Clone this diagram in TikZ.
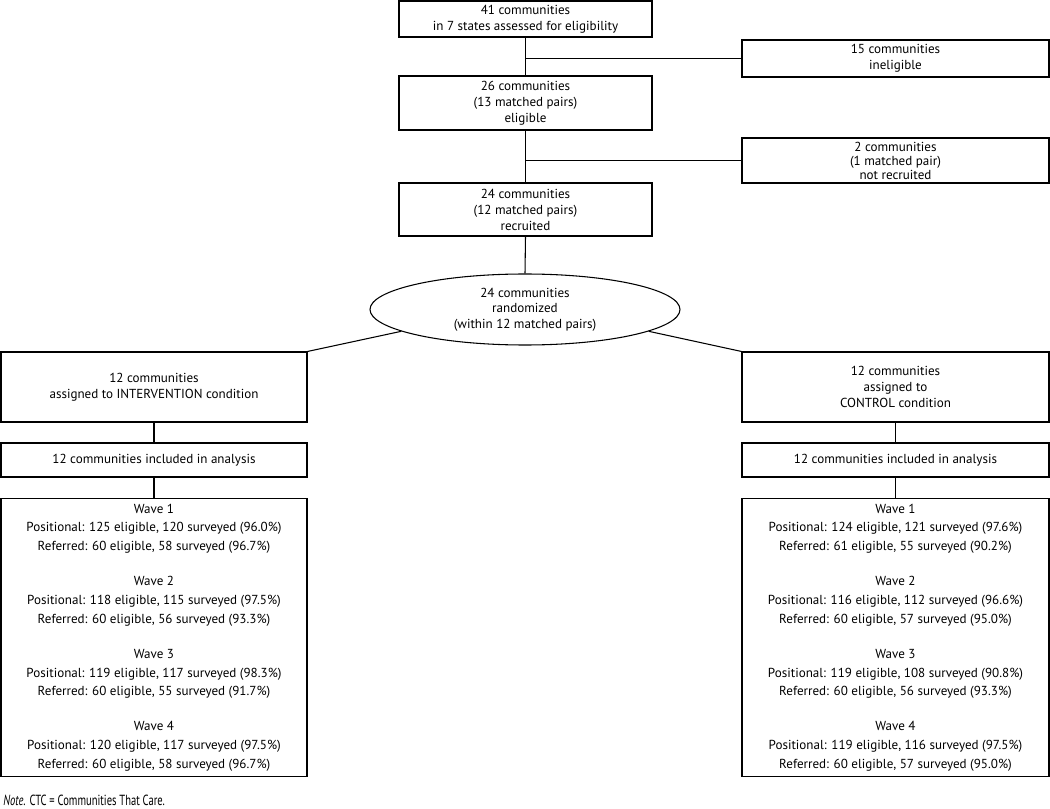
\documentclass[tikz,border=0pt]{standalone}
\usepackage{fontspec}
\setmainfont{PT Sans}
\newfontfamily\notefont[FakeStretch=0.72]{PT Sans}
\usetikzlibrary{shapes.geometric}
\begin{document}
\begin{tikzpicture}[x=0.75pt,y=-0.75pt,
  box/.style={draw, line width=0.8pt, rectangle, align=center, inner sep=0pt,
    font=\fontsize{9.8}{12}\selectfont},
  bigbox/.style={box, font=\fontsize{9.8}{14.06}\selectfont},
  ln/.style={line width=0.8pt}]
\useasboundingbox (0,0) rectangle (1050,809);

% main column
\node[box, minimum width=189.75pt, minimum height=27pt] (b1) at (525.5,19)
  {41 communities\\in 7 states assessed for eligibility};
\node[box, minimum width=189.75pt, minimum height=40.5pt] (b2) at (525.5,103)
  {26 communities\\(13 matched pairs)\\eligible};
\node[box, minimum width=189.75pt, minimum height=39.75pt] (b3) at (525.5,209.5)
  {24 communities\\(12 matched pairs)\\recruited};
\node[box, minimum width=230.25pt, minimum height=27.75pt] (inel) at (895.5,58.5)
  {15 communities\\ineligible};
\node[box, minimum width=230.25pt, minimum height=33.75pt, font=\fontsize{9.8}{10.5}\selectfont] (nrec) at (895.5,160.5)
  {2 communities\\(1 matched pair)\\not recruited};
\node[draw, line width=0.8pt, ellipse, inner sep=0pt, align=center,
  minimum width=232.5pt, minimum height=53.25pt,
  font=\fontsize{9.8}{11.6}\selectfont] (rand) at (525,309.5)
  {24 communities\\randomized\\(within 12 matched pairs)};

% left column
\node[box, minimum width=229.5pt, minimum height=52.5pt] (int) at (154,387)
  {12 communities\\assigned to INTERVENTION condition};
\node[box, minimum width=229.5pt, minimum height=25.5pt] (inta) at (154,460)
  {12 communities included in analysis};
\node[bigbox, minimum width=229.5pt, minimum height=208.5pt] (intw) at (154,637.5)
  {Wave 1\\Positional: 125 eligible, 120 surveyed (96.0\%)\\Referred: 60 eligible, 58 surveyed (96.7\%)\\[12.3pt]
   Wave 2\\Positional: 118 eligible, 115 surveyed (97.5\%)\\Referred: 60 eligible, 56 surveyed (93.3\%)\\[12.3pt]
   Wave 3\\Positional: 119 eligible, 117 surveyed (98.3\%)\\Referred: 60 eligible, 55 surveyed (91.7\%)\\[12.3pt]
   Wave 4\\Positional: 120 eligible, 117 surveyed (97.5\%)\\Referred: 60 eligible, 58 surveyed (96.7\%)};

% right column
\node[box, minimum width=230.25pt, minimum height=52.5pt] (ctl) at (895.5,387)
  {12 communities\\assigned to\\CONTROL condition};
\node[box, minimum width=230.25pt, minimum height=25.5pt] (ctla) at (895.5,460)
  {12 communities included in analysis};
\node[bigbox, minimum width=230.25pt, minimum height=208.5pt] (ctlw) at (895.5,637.5)
  {Wave 1\\Positional: 124 eligible, 121 surveyed (97.6\%)\\Referred: 61 eligible, 55 surveyed (90.2\%)\\[12.3pt]
   Wave 2\\Positional: 116 eligible, 112 surveyed (96.6\%)\\Referred: 60 eligible, 57 surveyed (95.0\%)\\[12.3pt]
   Wave 3\\Positional: 119 eligible, 108 surveyed (90.8\%)\\Referred: 60 eligible, 56 surveyed (93.3\%)\\[12.3pt]
   Wave 4\\Positional: 119 eligible, 116 surveyed (97.5\%)\\Referred: 60 eligible, 57 surveyed (95.0\%)};

\node[anchor=west, inner sep=0pt, font=\notefont\fontsize{11}{13}\selectfont] (note) at (3,800)
  {\textit{Note}. CTC = Communities That Care.};

% connectors
\coordinate (j1) at (inel.west -| b1.south);
\coordinate (j2) at (nrec.west -| b2.south);
\draw[ln] (b1.south) -- (b2.north);
\draw[ln] (j1) -- (inel.west);
\draw[ln] (b2.south) -- (b3.north);
\draw[ln] (j2) -- (nrec.west);
\draw[ln] (b3.south) -- (rand.north);
\draw[ln] (rand.190) -- (int.north east);
\draw[ln] (rand.-10) -- (ctl.north west);
\draw[ln] (int.south) -- (inta.north);
\draw[ln] (inta.south) -- (intw.north);
\draw[ln] (ctl.south) -- (ctla.north);
\draw[ln] (ctla.south) -- (ctlw.north);
\end{tikzpicture}
\end{document}
